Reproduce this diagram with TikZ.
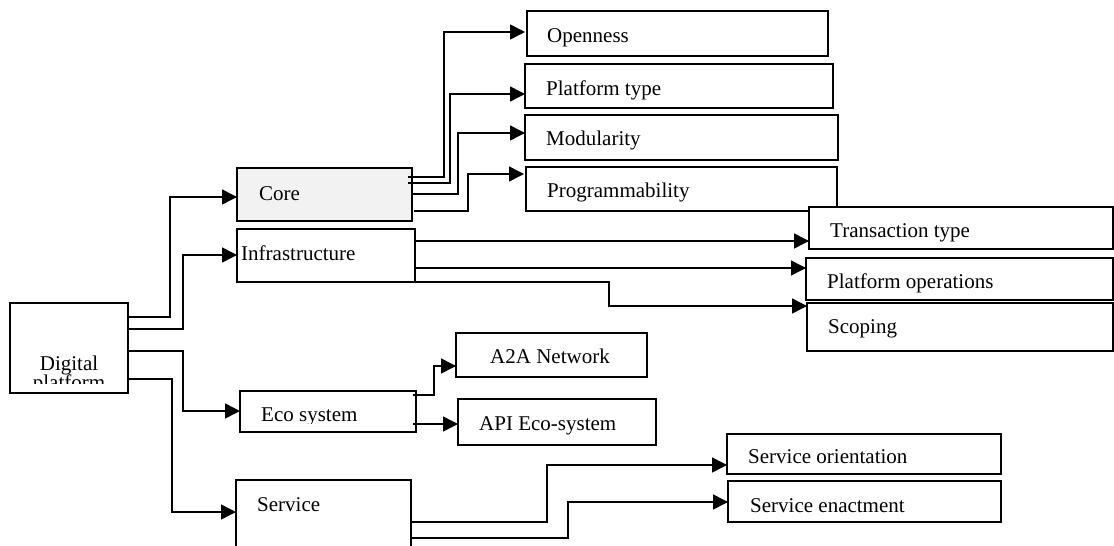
\documentclass[tikz,border=0pt]{standalone}
\usepackage{fontspec}
\setmainfont{Liberation Serif}
\usetikzlibrary{arrows.meta,calc}

\begin{document}
\begin{tikzpicture}[x=1pt,y=-1pt,
  box/.style={draw, line width=1.5pt, fill=white, rectangle, inner sep=0pt,
              outer sep=0pt, anchor=north west},
  corebox/.style={box, fill=black!5},
  lbl/.style={anchor=base west, inner sep=0pt, font=\fontsize{21}{25}\selectfont},
  wire/.style={line width=1.5pt},
  conn/.style={wire, -{Triangle[length=15pt,width=15pt]}}
]
\useasboundingbox (0,0) rectangle (1114,546);

% groups
\node[corebox, minimum width=175pt, minimum height=53pt] (core) at (237,168) {};
\node[box, minimum width=178pt, minimum height=53pt] (infra) at (237,229) {};
\node[box, minimum width=176pt, minimum height=41pt] (eco) at (240,391) {};
\node[box, minimum width=175pt, minimum height=90pt] (svc) at (236,480) {};

% leaves
\node[box, minimum width=301pt, minimum height=45pt] (open) at (527,11) {};
\node[box, minimum width=308pt, minimum height=44pt] (ptype) at (525,64) {};
\node[box, minimum width=313pt, minimum height=45pt] (modu) at (525,115) {};
\node[box, minimum width=311pt, minimum height=44pt] (prog) at (526,167) {};
\node[box, minimum width=304pt, minimum height=42pt] (trans) at (809,207) {};
\node[box, minimum width=307pt, minimum height=42pt] (pops) at (806,258) {};
\node[box, minimum width=306pt, minimum height=48pt] (scop) at (807,303) {};
\node[box, minimum width=191pt, minimum height=44pt] (a2a) at (456,333) {};
\node[box, minimum width=198pt, minimum height=46pt] (api) at (458,399) {};
\node[box, minimum width=274pt, minimum height=40pt] (sori) at (727,434) {};
\node[box, minimum width=273pt, minimum height=41pt] (senc) at (728,481) {};

% root
\node[box, minimum width=118pt, minimum height=90pt] (dp) at (10,303) {};

% root -> groups
\draw[conn] ($(dp.north east)+(0,14)$) -- ++(42,0) |- ($(core.north west)+(0,29)$);
\draw[conn] ($(dp.north east)+(0,26)$) -- ++(55,0) |- ($(infra.north west)+(0,26)$);
\draw[conn] ($(dp.north east)+(0,48)$) -- ++(55,0) |- ($(eco.north west)+(0,20)$);
\draw[conn] ($(dp.north east)+(0,76)$) -- ++(44,0) |- ($(svc.north west)+(0,32)$);

% core -> leaves
\draw[conn] ($(core.north east)+(-4,9)$)  -- ++(36,0) |- ($(open.north west)+(-2,21)$);
\draw[conn] ($(core.north east)+(-4,15)$) -- ++(42,0) |- ($(ptype.north west)+(0,30)$);
\draw[conn] ($(core.north east)+(0,26)$)  -- ++(46,0) |- ($(modu.north west)+(0,18)$);
\draw[conn] ($(core.north east)+(2,43)$)  -- ++(54,0) |- ($(prog.north west)+(-2,7)$);

% infrastructure -> leaves
\draw[conn] ($(infra.north east)+(0,12)$) -- ($(trans.north west)+(0,34)$);
\draw[conn] ($(infra.north east)+(0,39)$) -- ($(pops.north west)+(0,10)$);
\draw[conn] (infra.south east) -- ++(194,0) |- ($(scop.north west)+(0,3)$);

% eco system -> leaves
\draw[conn] ($(eco.north east)+(-3,4)$)  -- ++(21,0) |- ($(a2a.north west)+(0,33)$);
\draw[conn] ($(eco.north east)+(-3,33)$) -- ($(api.north west)+(0,25)$);

% service -> leaves
\draw[conn] ($(svc.north east)+(0,42)$) -- ++(136,0) |- ($(sori.north west)+(0,31)$);
\draw[conn] ($(svc.north east)+(0,58)$) -- ++(157,0) |- ($(senc.north west)+(0,21)$);

% ---------- labels ----------
\begin{scope}
  \clip (10,303) rectangle (128,383);
  \node[lbl, anchor=base] (dp-l1) at (69,370) {Digital};
  \node[lbl, anchor=base] (dp-l2) at (69,389) {platform};
\end{scope}
\node[lbl] (core-l) at (259,200) {Core};
\node[lbl] (infra-l) at (241,260) {Infrastructure};
\begin{scope}
  \clip (240,391) rectangle (416,423);
  \node[lbl] (eco-l) at (261,421) {Eco system};
\end{scope}
\node[lbl] (svc-l) at (257,511) {Service};

\node[lbl] (open-l) at (547,42) {Openness};
\node[lbl] (ptype-l) at (546,95) {Platform type};
\node[lbl] (modu-l) at (546,145) {Modularity};
\node[lbl] (prog-l) at (547,197) {Programmability};
\node[lbl] (trans-l) at (830,237) {Transaction type};
\node[lbl] (pops-l) at (827,288) {Platform operations};
\node[lbl] (scop-l) at (828,333) {Scoping};
\node[lbl] (a2a-l) at (490,363) {A2A Network};
\node[lbl] (api-l) at (479,430) {API Eco-system};
\begin{scope}
  \clip (727,434) rectangle (1001,464);
  \node[lbl] (sori-l) at (748,463) {Service orientation};
\end{scope}
\node[lbl] (senc-l) at (750,512) {Service enactment};
\end{tikzpicture}
\end{document}
